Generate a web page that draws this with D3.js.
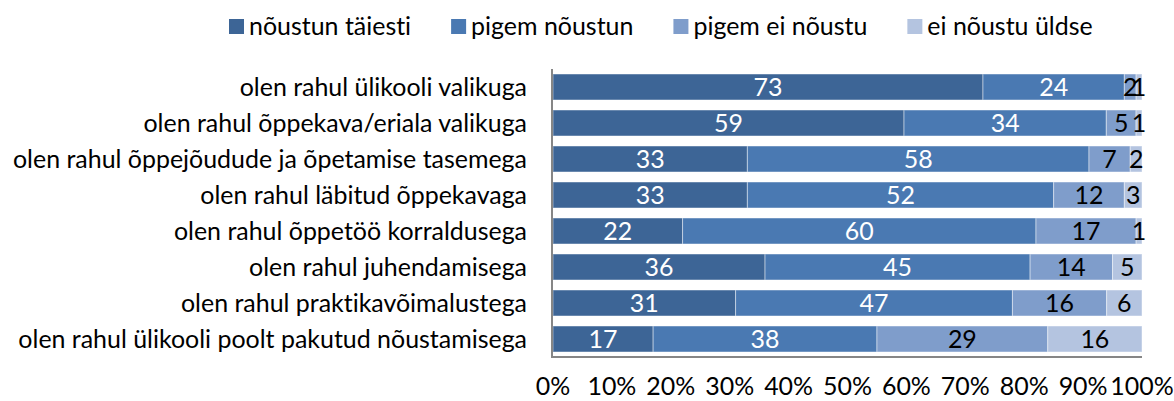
<!DOCTYPE html>
<html>
<head>
<meta charset="utf-8">
<script src="https://cdn.jsdelivr.net/npm/d3@7"></script>
<style>
  body { margin: 0; background: #fff; }
  text { font-family: Lato, "Open Sans", sans-serif; font-variant-ligatures: none; }
</style>
</head>
<body>
<svg id="chart" width="1174" height="401"></svg>
<script>
// andmed
const categories = [
  "olen rahul ülikooli valikuga",
  "olen rahul õppekava/eriala valikuga",
  "olen rahul õppejõudude ja õpetamise tasemega",
  "olen rahul läbitud õppekavaga",
  "olen rahul õppetöö korraldusega",
  "olen rahul juhendamisega",
  "olen rahul praktikavõimalustega",
  "olen rahul ülikooli poolt pakutud nõustamisega"
];
const seriesNames = ["nõustun täiesti", "pigem nõustun", "pigem ei nõustu", "ei nõustu üldse"];
const noustunTaiesti = [73, 59, 33, 33, 22, 36, 31, 17];
const pigemNoustun   = [24, 34, 58, 52, 60, 45, 47, 38];
const pigemEiNoustu  = [2, 5, 7, 12, 17, 14, 16, 29];
const eiNoustuUldse  = [1, 1, 2, 3, 1, 5, 6, 16];
const tickLabels = ["0%", "10%", "20%", "30%", "40%", "50%", "60%", "70%", "80%", "90%", "100%"];

const colors = ["#3d6596", "#4a79b2", "#7f9dcb", "#b4c4e0"];
const textColors = ["#fff", "#fff", "#000", "#000"];

const rows = categories.map((c, i) => ({
  cat: c,
  s0: noustunTaiesti[i], s1: pigemNoustun[i], s2: pigemEiNoustu[i], s3: eiNoustuUldse[i]
}));
const keys = ["s0", "s1", "s2", "s3"];
const stacked = d3.stack().keys(keys).offset(d3.stackOffsetExpand)(rows);

const svg = d3.select("#chart");

const x = d3.scaleLinear().domain([0, 1]).range([553, 1142]);
const y = d3.scaleBand().domain(categories).range([69, 357])
  .paddingInner(0.278).paddingOuter(0.139);

// fondi suurus nii, et pikim silt mahuks
const probe = svg.append("text").attr("font-size", 20).text(categories[7]);
const w = probe.node().getComputedTextLength();
probe.remove();
const fs = 20 * 509 / w;

// tulbad
const layer = svg.append("g").selectAll("g")
  .data(stacked)
  .enter().append("g")
  .attr("fill", (d, i) => colors[i]);

layer.selectAll("rect")
  .data(d => d)
  .enter().append("rect")
  .attr("x", d => x(d[0]))
  .attr("y", d => y(d.data.cat))
  .attr("width", d => x(d[1]) - x(d[0]))
  .attr("height", y.bandwidth())
  .attr("stroke", "rgba(255,255,255,0.45)")
  .attr("stroke-width", 1);

// väärtused
stacked.forEach((s, si) => {
  svg.append("g").selectAll("text")
    .data(s)
    .enter().append("text")
    .attr("x", d => (x(d[0]) + x(d[1])) / 2)
    .attr("y", d => y(d.data.cat) + y.bandwidth() / 2)
    .attr("dy", "0.36em")
    .attr("text-anchor", "middle")
    .attr("font-size", fs)
    .attr("fill", textColors[si])
    .text(d => d.data[keys[si]]);
});

// teljed
svg.append("line")
  .attr("x1", 552).attr("x2", 552)
  .attr("y1", 69).attr("y2", 358)
  .attr("stroke", "#868686").attr("stroke-width", 2);
svg.append("line")
  .attr("x1", 551).attr("x2", x(1))
  .attr("y1", 357).attr("y2", 357)
  .attr("stroke", "#868686").attr("stroke-width", 2);

// kategooriate sildid
svg.append("g").selectAll("text")
  .data(categories)
  .enter().append("text")
  .attr("x", 527)
  .attr("y", d => y(d) + y.bandwidth() / 2)
  .attr("dy", "0.36em")
  .attr("text-anchor", "end")
  .attr("font-size", fs)
  .attr("fill", "#000")
  .text(d => d);

// x-telje sildid
svg.append("g").selectAll("text")
  .data(tickLabels)
  .enter().append("text")
  .attr("x", (d, i) => x(i / 10))
  .attr("y", 386)
  .attr("dy", "0.36em")
  .attr("text-anchor", "middle")
  .attr("font-size", fs)
  .attr("fill", "#000")
  .text(d => d);

// legend
let lx = 229;
seriesNames.forEach((name, i) => {
  svg.append("rect")
    .attr("x", lx).attr("y", 19)
    .attr("width", 15).attr("height", 15)
    .attr("fill", colors[i]);
  const t = svg.append("text")
    .attr("x", lx + 20)
    .attr("y", 26.5)
    .attr("dy", "0.36em")
    .attr("font-size", fs)
    .attr("fill", "#000")
    .text(name);
  lx += 20 + t.node().getComputedTextLength() + 40;
});
</script>
</body>
</html>
